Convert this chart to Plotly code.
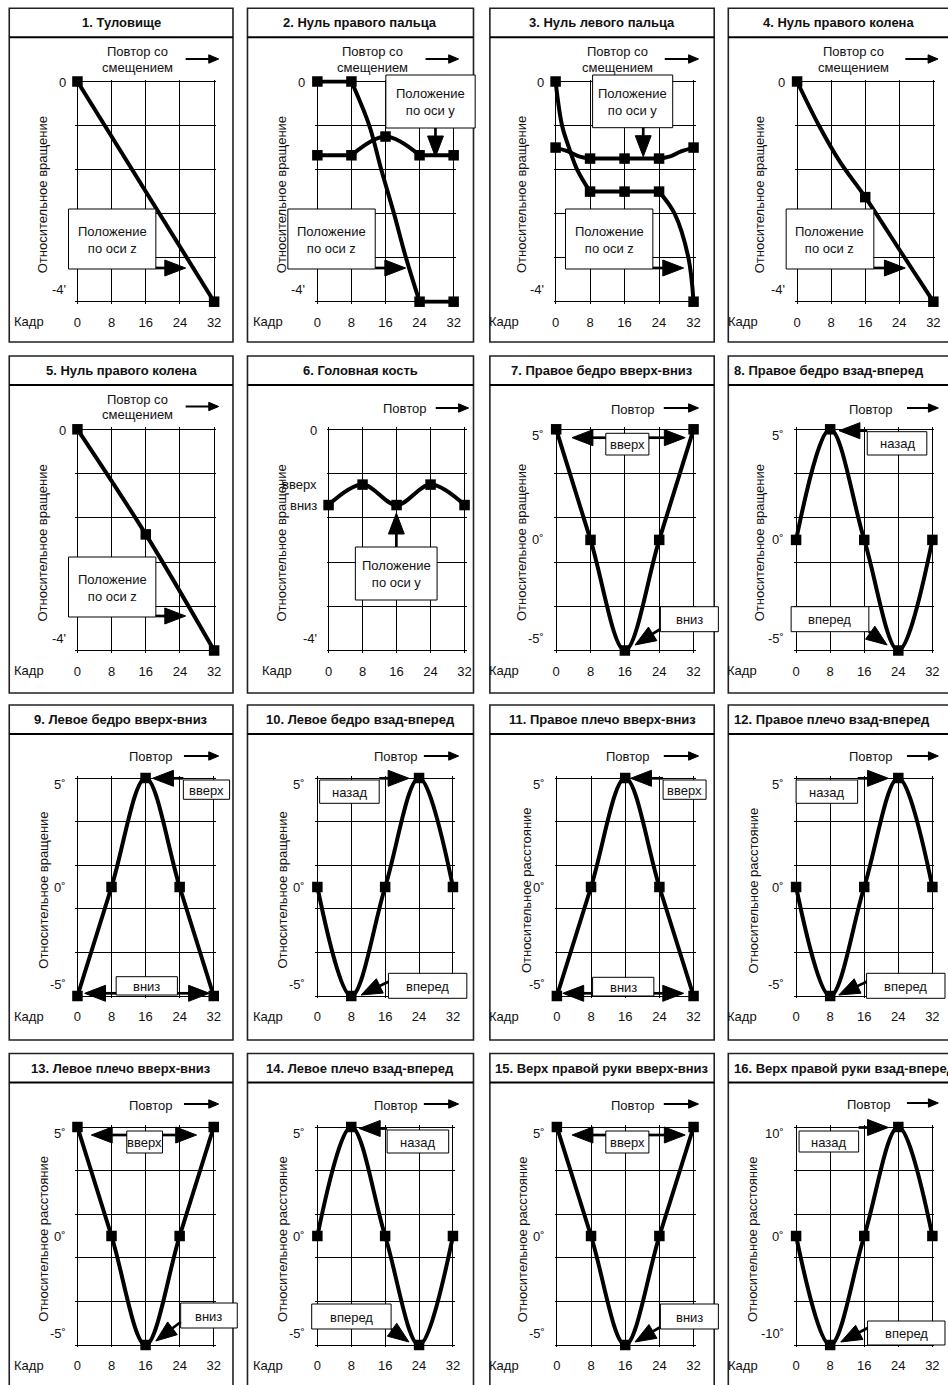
import math
import numpy as np
import plotly.graph_objects as go

W, H = 948, 1385
FONT = "Liberation Sans, Arial, Helvetica, sans-serif"

# ---------------- data ----------------
FRAMES = [0, 8, 16, 24, 32]
FRAME_LABELS = ["0", "8", "16", "24", "32"]
FRAME_WORD = "Кадр"
REPEAT_OFFSET = ["Повтор со", "смещением"]
REPEAT = ["Повтор"]
POS_Z = "Положение<br>по оси z"
POS_Y = "Положение<br>по оси y"
UP, DOWN, BACK, FWD = "вверх", "вниз", "назад", "вперед"
YT_ROT = "Относительное вращение"
YT_DIST = "Относительное расстояние"

TITLES = [
    "1. Туловище", "2. Нуль правого пальца", "3. Нуль левого пальца", "4. Нуль правого колена",
    "5. Нуль правого колена", "6. Головная кость", "7. Правое бедро вверх-вниз", "8. Правое бедро взад-вперед",
    "9. Левое бедро вверх-вниз", "10. Левое бедро взад-вперед", "11. Правое плечо вверх-вниз",
    "12. Правое плечо взад-вперед", "13. Левое плечо вверх-вниз", "14. Левое плечо взад-вперед",
    "15. Верх правой руки вверх-вниз", "16. Верх правой руки взад-вперед",
]
Y_TITLES = [YT_ROT] * 10 + [YT_DIST] * 6

Y_RANGE_SMALL = [-4, 0]
Y_RANGE_5 = [-5, 5]
Y_RANGE_10 = [-10, 10]

LABELS_SMALL = [(0, "0"), (-4, "-4'")]
LABELS_HEAD = [(0, "0"), (-1.0, "вверх"), (-1.37, "вниз"), (-4, "-4'")]
LABELS_5 = [(5, "5˚"), (0, "0˚"), (-5, "-5˚")]
LABELS_10 = [(10, "10˚"), (0, "0˚"), (-10, "-10˚")]

# curves (x, y)
P1_Z_X = [0, 32]
P1_Z_Y = [0, -4]
P2_Y_X = [0, 8, 16, 24, 32]
P2_Y_Y = [-1.34, -1.34, -1.0, -1.34, -1.34]
P2_Z_X = [0, 8, 12.2, 15, 18, 20.8, 24, 32]
P2_Z_Y = [0, 0, -0.8, -1.6, -2.4, -3.2, -4, -4]
P3_Y_X = [0, 2.9, 5.4, 8, 16, 24, 26.6, 29.1, 32]
P3_Y_Y = [-1.2, -1.27, -1.36, -1.4, -1.4, -1.4, -1.36, -1.27, -1.2]
P3_Z_X = [0, 1.5, 3.1, 5.0, 8, 16, 24, 27.6, 30.8, 32]
P3_Z_Y = [0, -0.8, -1.2, -1.6, -2.0, -2.0, -2.0, -2.4, -3.2, -4.0]
P4_Z_X = [0, 5, 10, 16, 25, 32]
P4_Z_Y = [0, -0.78, -1.45, -2.1, -3.17, -4]
P5_Z_X = [0, 16, 32]
P5_Z_Y = [0, -1.9, -4]
P6_Y_Y = [-1.37, -1.0, -1.37, -1.0, -1.37]
P7_Y = [5, 0, -5, 0, 5]
P8_Y = [0, 5, 0, -5, 0]
P9_Y = [-5, 0, 5, 0, -5]
P10_Y = [0, -5, 0, 5, 0]
P11_Y = [-5, 0, 5, 0, -5]
P12_Y = [0, -5, 0, 5, 0]
P13_Y = [5, 0, -5, 0, 5]
P14_Y = [0, 5, 0, -5, 0]
P15_Y = [5, 0, -5, 0, 5]
P16_Y = [0, -10, 0, 10, 0]

# ---------------- layout geometry (pixels) ----------------
COL_L = [7.3, 247.3, 491.5, 731.7]
COL_R = [232.7, 475, 717.5, 965]
ROW_T = [8.3, 356, 705, 1053.5]
ROW_B = [342, 693, 1040, 1400]
TITLE_X = {1: 120, 2: 361, 3: 604.5, 4: 843, 5: 120, 6: 361, 7: 604.5, 8: None,
           9: 120, 10: 361, 11: 604.5, 12: None, 13: 120, 14: 361, 15: 604.5, 16: None}

GRID = {
    1: (76, 81.5, 213.7, 301.7), 2: (317.7, 81.5, 455, 301.7), 3: (557.7, 81.5, 696.7, 301.7), 4: (801, 81.5, 938.3, 301.7),
    5: (76, 429.3, 213.7, 650.5), 6: (329, 429.3, 466, 650.5), 7: (558.3, 429.3, 696.7, 650.5), 8: (800, 429.3, 937.3, 650.5),
    9: (76, 778, 213.3, 996), 10: (317.7, 778, 454.3, 996), 11: (559, 778, 696.7, 996), 12: (800, 778, 937.3, 996),
    13: (76, 1127, 213.3, 1345), 14: (317.7, 1127, 454.3, 1345), 15: (559, 1127, 696.7, 1345), 16: (800, 1127, 937.3, 1345),
}
KADR_X = {1: 27.5, 2: 267.5, 3: 506, 4: 747, 5: 27.5, 6: 276.7, 7: 506, 8: 746, 9: 27.5, 10: 267.5,
          11: 506, 12: 746, 13: 27.5, 14: 267.5, 15: 506, 16: 746.7}
YT_X = {1: 41, 2: 281.7, 3: 523.3, 4: 763.3, 5: 41, 6: 281.7, 7: 524, 8: 764, 9: 41, 10: 281.7,
        11: 528, 12: 757, 13: 41, 14: 282, 15: 524, 16: 755.7}

FULL = lambda ys: (FRAMES, ys, [(0, 4, "spline")])
PANELS = {
    1: dict(yr=Y_RANGE_SMALL, labels=LABELS_SMALL, curves=[(P1_Z_X, P1_Z_Y, [(0, 1, "linear")])],
            rep=(REPEAT_OFFSET, 137, 52), rep_arrow=(185, 59, 218.3, 59),
            boxes=[(67, 209, 155, 269, POS_Z)], arrows=[(155, 268, 185, 268)]),
    2: dict(yr=Y_RANGE_SMALL, labels=LABELS_SMALL,
            curves=[(P2_Y_X, P2_Y_Y, [(0, 1, "linear"), (1, 3, "spline"), (3, 4, "linear")]),
                    (P2_Z_X, P2_Z_Y, [(0, 1, "linear"), (1, 6, "spline"), (6, 7, "linear")])],
            rep=(REPEAT_OFFSET, 373, 52), rep_arrow=(426.7, 59, 460, 59),
            boxes=[(386.7, 75, 476.7, 128, POS_Y), (288, 209, 376, 269, POS_Z)],
            arrows=[(436.7, 128, 436.7, 157), (376, 268, 406.7, 268)]),
    3: dict(yr=Y_RANGE_SMALL, labels=LABELS_SMALL,
            curves=[(P3_Y_X, P3_Y_Y, [(0, 3, "spline"), (3, 5, "linear"), (5, 8, "spline")]),
                    (P3_Z_X, P3_Z_Y, [(0, 4, "spline"), (4, 6, "linear"), (6, 9, "spline")])],
            rep=(REPEAT_OFFSET, 620, 52), rep_arrow=(667.7, 59, 701.7, 59),
            boxes=[(595, 75, 675.7, 127.7, POS_Y), (567.7, 209, 655.7, 269, POS_Z)],
            arrows=[(646, 127.7, 646, 156.7), (655.7, 268, 686.7, 268)]),
    4: dict(yr=Y_RANGE_SMALL, labels=LABELS_SMALL, curves=[(P4_Z_X, P4_Z_Y, [(0, 5, "spline")])],
            rep=(REPEAT_OFFSET, 858, 52), rep_arrow=(910, 59, 943, 59),
            boxes=[(790, 209, 878.3, 269, POS_Z)], arrows=[(878.3, 268, 910, 268)]),
    5: dict(yr=Y_RANGE_SMALL, labels=LABELS_SMALL, curves=[(P5_Z_X, P5_Z_Y, [(0, 2, "spline")])],
            rep=(REPEAT_OFFSET, 137, 399.5), rep_arrow=(185, 406.5, 218.3, 406.5),
            boxes=[(67, 557, 155, 617, POS_Z)], arrows=[(155, 616, 185, 616)]),
    6: dict(yr=Y_RANGE_SMALL, labels=LABELS_HEAD, curves=[FULL(P6_Y_Y)],
            rep=(REPEAT, 405, 409), rep_arrow=(437, 408, 470, 408),
            boxes=[(356, 547, 438.3, 600, POS_Y)], arrows=[(397.3, 547, 397.3, 513)]),
    7: dict(yr=Y_RANGE_5, labels=LABELS_5, curves=[FULL(P7_Y)],
            rep=(REPEAT, 635, 409.3), rep_arrow=(666.7, 408, 701.7, 408),
            boxes=[(608.3, 433.3, 651.7, 455, UP), (663.3, 606.7, 721.7, 631.7, DOWN)],
            arrows=[(608.3, 437.7, 574.3, 437.7), (651.7, 437.7, 688.3, 437.7), (663.3, 629, 637.7, 645)]),
    8: dict(yr=Y_RANGE_5, labels=LABELS_5, curves=[FULL(P8_Y)],
            rep=(REPEAT, 875, 409.3), rep_arrow=(911.7, 408, 943.3, 408),
            boxes=[(871.7, 431.7, 931.7, 455, BACK), (795, 606.7, 873.3, 631.7, FWD)],
            arrows=[(871.7, 430.7, 843.3, 430.7), (873.3, 631.7, 891.7, 645)]),
    9: dict(yr=Y_RANGE_5, labels=LABELS_5, curves=[FULL(P9_Y)],
            rep=(REPEAT, 150, 756.7), rep_arrow=(183.3, 756, 218.3, 756),
            boxes=[(182.7, 780, 229.3, 799.3, UP), (115, 976.7, 176.7, 995, DOWN)],
            arrows=[(182.7, 778.3, 151.7, 778.3), (115, 993.3, 83.3, 993.3), (176.7, 993.3, 209, 993.3)]),
    10: dict(yr=Y_RANGE_5, labels=LABELS_5, curves=[FULL(P10_Y)],
             rep=(REPEAT, 396.7, 756.7), rep_arrow=(425, 756, 460, 756),
             boxes=[(320, 780, 380, 803.3, BACK), (389.3, 973.3, 468.3, 998.3, FWD)],
             arrows=[(380, 778.3, 410, 778.3), (389.3, 981.7, 361.7, 995)]),
    11: dict(yr=Y_RANGE_5, labels=LABELS_5, curves=[FULL(P11_Y)],
             rep=(REPEAT, 630, 756.7), rep_arrow=(666.7, 756, 701.7, 756),
             boxes=[(666, 780, 709.3, 799.3, UP), (595, 977.3, 656.7, 996, DOWN)],
             arrows=[(666, 778.3, 633.3, 778.3), (595, 993.3, 565, 993.3), (656.7, 993.3, 686.7, 993.3)]),
    12: dict(yr=Y_RANGE_5, labels=LABELS_5, curves=[FULL(P12_Y)],
             rep=(REPEAT, 875, 756.7), rep_arrow=(911.7, 756, 943.3, 756),
             boxes=[(800, 780, 862, 803.3, BACK), (871, 973.3, 950, 998.3, FWD)],
             arrows=[(862, 778.3, 893, 778.3), (871, 981.7, 843, 995)]),
    13: dict(yr=Y_RANGE_5, labels=LABELS_5, curves=[FULL(P13_Y)],
             rep=(REPEAT, 150, 1105), rep_arrow=(183.3, 1104, 218.3, 1104),
             boxes=[(125.7, 1131, 161.7, 1153, UP), (180, 1303, 237, 1328, DOWN)],
             arrows=[(125.7, 1135, 90, 1135), (161.7, 1135, 196, 1135), (180, 1322, 155, 1341)]),
    14: dict(yr=Y_RANGE_5, labels=LABELS_5, curves=[FULL(P14_Y)],
             rep=(REPEAT, 396, 1105), rep_arrow=(425, 1104, 460, 1104),
             boxes=[(388, 1130, 450, 1153, BACK), (312, 1304, 392, 1329, FWD)],
             arrows=[(388, 1128.5, 360, 1128.5), (392, 1329, 410, 1342)]),
    15: dict(yr=Y_RANGE_5, labels=LABELS_5, curves=[FULL(P15_Y)],
             rep=(REPEAT, 635, 1105), rep_arrow=(666.7, 1104, 701.7, 1104),
             boxes=[(608.3, 1131, 651.7, 1153, UP), (663.3, 1304, 721.7, 1329, DOWN)],
             arrows=[(608.3, 1135, 574.3, 1135), (651.7, 1135, 688.3, 1135), (663.3, 1327, 637.7, 1342)]),
    16: dict(yr=Y_RANGE_10, labels=LABELS_10, curves=[FULL(P16_Y)],
             rep=(REPEAT, 873, 1104), rep_arrow=(911.7, 1103, 943.3, 1103),
             boxes=[(803, 1131, 863, 1152, BACK), (872, 1321, 950, 1345, FWD)],
             arrows=[(863, 1127.5, 893, 1127.5), (872, 1328, 845, 1342)]),
}


def fx(x):
    return x / W


def fy(y):
    return 1 - y / H


shapes, annotations = [], []


def text(t, x, y, size=13, xanchor="center", angle=0, bold=False):
    annotations.append(dict(text=(f"<b>{t}</b>" if bold else t), x=fx(x), y=fy(y), xref="paper", yref="paper",
                            showarrow=False, xanchor=xanchor, yanchor="middle", textangle=angle,
                            font=dict(family=FONT, size=size, color="#111"), align="center"))


def arrow(x0, y0, x1, y1, big=True):
    hl, hw, lw = (21, 8, 2.7) if big else (10, 4.2, 2.0)
    L = math.hypot(x1 - x0, y1 - y0)
    ux, uy = (x1 - x0) / L, (y1 - y0) / L
    bx, by = x1 - ux * hl, y1 - uy * hl
    shapes.append(dict(type="line", xref="paper", yref="paper", x0=fx(x0), y0=fy(y0),
                       x1=fx(bx + ux * 2), y1=fy(by + uy * 2), line=dict(color="black", width=lw), layer="above"))
    pxv, pyv = -uy, ux
    pts = [(x1, y1), (bx + pxv * hw, by + pyv * hw), (bx - pxv * hw, by - pyv * hw)]
    path = "M " + " L ".join(f"{fx(a):.6f},{fy(b):.6f}" for a, b in pts) + " Z"
    shapes.append(dict(type="path", xref="paper", yref="paper", path=path, fillcolor="black",
                       line=dict(color="black", width=1), layer="above"))


fig = go.Figure()
layout = dict(width=W, height=H, margin=dict(l=0, r=0, t=0, b=0), paper_bgcolor="white",
              plot_bgcolor="white", showlegend=False)

EXT = 2.0  # px of padding so that the outer grid lines are drawn

for i in range(1, 17):
    col, row = (i - 1) % 4, (i - 1) // 4
    spec = PANELS[i]
    gl, gt, gr, gb = GRID[i]
    ymin, ymax = spec["yr"]
    sfx = "" if i == 1 else str(i)
    xpad = EXT * 32 / (gr - gl)
    ypad = EXT * (ymax - ymin) / (gb - gt)
    layout["xaxis" + sfx] = dict(domain=[fx(gl - EXT), fx(gr + EXT)], range=[-xpad, 32 + xpad], anchor="y" + sfx,
                                 tickvals=FRAMES, ticktext=FRAME_LABELS, showgrid=True, gridcolor="black",
                                 gridwidth=1.2, zeroline=False, showline=False, ticks="",
                                 tickfont=dict(family=FONT, size=13, color="#111"), ticklabelstandoff=9,
                                 fixedrange=True)
    layout["yaxis" + sfx] = dict(domain=[fy(gb + EXT), fy(gt - EXT)], range=[ymin - ypad, ymax + ypad],
                                 anchor="x" + sfx,
                                 tickvals=list(np.linspace(ymin, ymax, 6)), showticklabels=False,
                                 showgrid=True, gridcolor="black", gridwidth=1.2, zeroline=False,
                                 showline=False, ticks="", fixedrange=True)

    # panel frame and title
    bl, br, bt, bb = COL_L[col], COL_R[col], ROW_T[row], ROW_B[row]
    shapes.append(dict(type="rect", xref="paper", yref="paper", x0=fx(bl), x1=fx(br), y0=fy(bb), y1=fy(bt),
                       line=dict(color="#222", width=1.6), layer="below"))
    shapes.append(dict(type="line", xref="paper", yref="paper", x0=fx(bl), x1=fx(br), y0=fy(bt + 29),
                       y1=fy(bt + 29), line=dict(color="black", width=2), layer="below"))
    if TITLE_X[i] is None:
        text(TITLES[i - 1], 735, bt + 14.5, size=13, bold=True, xanchor="left")
    else:
        text(TITLES[i - 1], TITLE_X[i], bt + 14.5, size=13, bold=True)

    # axis texts
    text(FRAME_WORD, KADR_X[i], gb + 20)
    text(Y_TITLES[i - 1], YT_X[i], (gt + gb) / 2 + 3, angle=-90)
    for val, lab in spec["labels"]:
        if val == ymax:
            ypix = gt + (1 if ymax == 0 else 6)
        elif val == ymin:
            ypix = gb - 12
        else:
            ypix = gb - (val - ymin) / (ymax - ymin) * (gb - gt)
        text(lab, gl - 10, ypix, xanchor="right")

    # repeat label and arrow
    lines, rx, ry = spec["rep"]
    for k, ln in enumerate(lines):
        text(ln, rx, ry + 15 * k)
    arrow(*spec["rep_arrow"], big=False)

    # boxes with labels, then their arrows
    for (l, t_, r, b, lab) in spec["boxes"]:
        shapes.append(dict(type="rect", xref="paper", yref="paper", x0=fx(l), x1=fx(r), y0=fy(b), y1=fy(t_),
                           fillcolor="white", line=dict(color="black", width=1), layer="above"))
        text(lab, (l + r) / 2, (t_ + b) / 2 + 0.5)
    for a in spec["arrows"]:
        arrow(*a, big=True)

    # curves
    for xs, ys, pieces in spec["curves"]:
        for (s, e, shp) in pieces:
            fig.add_trace(go.Scatter(x=xs[s:e + 1], y=ys[s:e + 1], mode="lines",
                                     line=dict(color="black", width=4, shape=shp, smoothing=1.0),
                                     xaxis="x" + sfx, yaxis="y" + sfx, cliponaxis=False, hoverinfo="skip"))
        kx = [x for x in xs if x in FRAMES]
        ky = [y for x, y in zip(xs, ys) if x in FRAMES]
        fig.add_trace(go.Scatter(x=kx, y=ky, mode="markers",
                                 marker=dict(symbol="square", size=10.5, color="black"),
                                 xaxis="x" + sfx, yaxis="y" + sfx, cliponaxis=False, hoverinfo="skip"))

layout["shapes"] = shapes
layout["annotations"] = annotations
fig.update_layout(**layout)
fig.write_html("out.html", config=dict(displayModeBar=False),
               post_script="document.body.style.margin='0';document.body.style.overflow='hidden';")
